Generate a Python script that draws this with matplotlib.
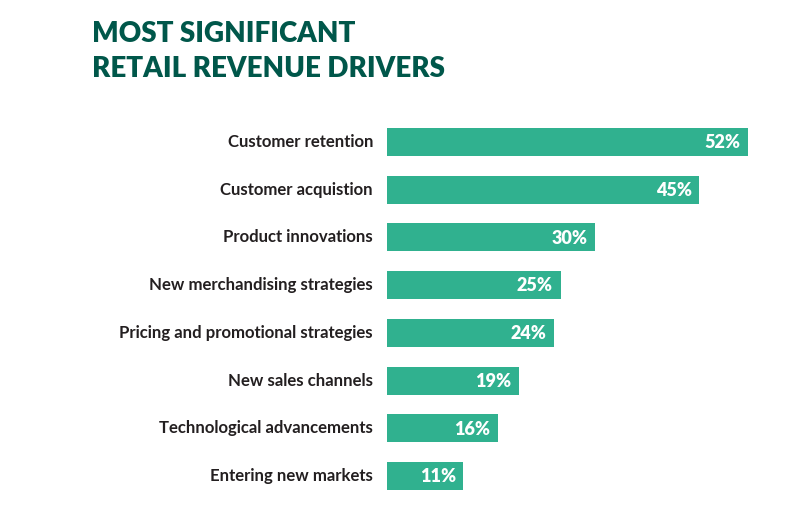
import matplotlib
matplotlib.use("Agg")
import matplotlib.pyplot as plt

categories = [
    "Customer retention",
    "Customer acquistion",
    "Product innovations",
    "New merchandising strategies",
    "Pricing and promotional strategies",
    "New sales channels",
    "Technological advancements",
    "Entering new markets",
]
values = [52, 45, 30, 25, 24, 19, 16, 11]

BAR_COLOR = "#30b18f"
TITLE_COLOR = "#00574a"
LABEL_COLOR = "#231f20"

W, H = 793, 507
fig = plt.figure(figsize=(W / 100, H / 100), dpi=100)
fig.patch.set_facecolor("white")

# axes placed in pixel terms
left_px, right_px = 387, 760
top_px, bottom_px = 118, 500
ax = fig.add_axes([left_px / W, 1 - bottom_px / H,
                   (right_px - left_px) / W, (bottom_px - top_px) / H])

ypos = list(range(len(categories)))
ax.barh(ypos, values, height=0.59, color=BAR_COLOR, left=0)
ax.set_xlim(0, 52 * (right_px - left_px) / 361)
ax.set_ylim(len(categories) - 0.5, -0.5)
ax.axis("off")

for y, cat, v in zip(ypos, categories, values):
    ax.annotate(cat, xy=(0, y), xytext=(-10, 0), textcoords="offset points",
                ha="right", va="center", fontsize=12.1, fontfamily="Lato",
                fontweight="bold", color=LABEL_COLOR)
    ax.annotate(f"{v}%", xy=(v, y), xytext=(-5.5, -0.5), textcoords="offset points",
                ha="right", va="center", fontsize=13, fontfamily="Lato",
                fontweight="heavy", color="white")

fig.text(92 / W, 1 - 21 / H, "MOST SIGNIFICANT\nRETAIL REVENUE DRIVERS",
         ha="left", va="top", fontsize=20, fontfamily="Lato", fontweight="heavy",
         color=TITLE_COLOR, linespacing=1.45)

fig.savefig("out.png", dpi=100, facecolor="white")
